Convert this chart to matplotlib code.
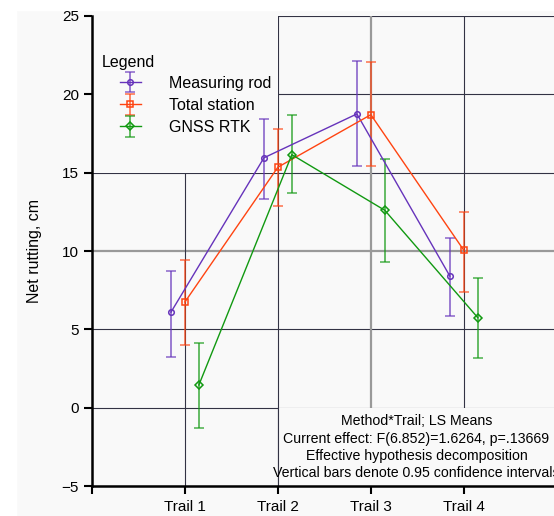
import numpy as np
import matplotlib.pyplot as plt
from matplotlib.patches import Rectangle
from matplotlib.container import ErrorbarContainer
from matplotlib.legend_handler import HandlerErrorbar

# Data
trails = ["Trail 1", "Trail 2", "Trail 3", "Trail 4"]
methods = ["Measuring rod", "Total station", "GNSS RTK"]

rod_mean = [6.1, 15.95, 18.75, 8.4]
rod_low = [3.25, 13.35, 15.45, 5.85]
rod_high = [8.75, 18.4, 22.1, 10.85]

ts_mean = [6.75, 15.35, 18.7, 10.05]
ts_low = [4.0, 12.85, 15.4, 7.4]
ts_high = [9.4, 17.8, 22.05, 12.5]

gnss_mean = [1.45, 16.15, 12.6, 5.75]
gnss_low = [-1.3, 13.7, 9.3, 3.2]
gnss_high = [4.15, 18.7, 15.9, 8.25]

note = ("Method*Trail; LS Means\n"
        "Current effect: F(6.852)=1.6264, p=.13669\n"
        "Effective hypothesis decomposition\n"
        "Vertical bars denote 0.95 confidence intervals")

bg = "#f9f9f9"
plt.rcParams['font.family'] = ['Liberation Sans', 'DejaVu Sans']

fig = plt.figure(figsize=(5.54, 5.16), dpi=100, facecolor=bg)
# white margins at top and left like the source picture
fig.patches.append(Rectangle((0, 0.981), 1, 0.02, transform=fig.transFigure,
                             color="white", zorder=-10))
fig.patches.append(Rectangle((0, 0), 0.029, 1, transform=fig.transFigure,
                             color="white", zorder=-10))

ax = fig.add_axes([0.166, 0.058, 0.839, 0.911])
ax.set_facecolor(bg)

x = np.arange(1, len(trails) + 1)

# grid
for yv in [-5, 0, 5, 15, 20, 25]:
    ax.axhline(yv, color="#333344", lw=0.8, zorder=0.5)
ax.axhline(10, color="#999999", lw=1.6, zorder=0.5)
for xv in [1, 2, 4, 5]:
    ax.axvline(xv, color="#333344", lw=0.8, zorder=0.5)
ax.axvline(3, color="#999999", lw=1.6, zorder=0.5)

# legend area and note area mask the grid
ax.add_patch(Rectangle((0, 15), 2, 10.2, facecolor=bg, edgecolor="none", zorder=1))
ax.add_patch(Rectangle((2, -5), 3.5, 5, facecolor=bg, edgecolor="none", zorder=1))
ax.plot([2, 2], [-5, 0], color="#333344", lw=0.8, zorder=1.1)

series = [
    (rod_mean, rod_low, rod_high, "#6633bb", "o", -0.15),
    (ts_mean, ts_low, ts_high, "#ff4411", "s", 0.0),
    (gnss_mean, gnss_low, gnss_high, "#119911", "D", 0.15),
]

for (m, lo, hi, col, mk, off), name in zip(series, methods):
    m = np.array(m)
    err = [m - np.array(lo), np.array(hi) - m]
    cont = ax.errorbar(x + off, m, yerr=err, color=col, marker=mk,
                       ms=4 if mk != "D" else 3.6,
                       mfc="none", mew=1.1, lw=1.0, capsize=3.5, capthick=1.2,
                       elinewidth=1.2, label=name, zorder=3)
    for c in cont[1]:
        c.set_alpha(0.75)
    for b in cont[2]:
        b.set_alpha(0.75)

ax.set_xlim(0, 5)
ax.set_ylim(-5, 25)
ax.set_yticks([-5, 0, 5, 10, 15, 20, 25])
ax.set_yticklabels(["\u22125", "0", "5", "10", "15", "20", "25"])
ax.set_xticks([0, 1, 2, 3, 4, 5])
ax.set_xticklabels([""] + trails + [""])
ax.tick_params(axis="both", direction="out", length=6, width=1.5, labelsize=11,
               color="black")
ax.tick_params(axis="x", pad=4)
for s in ["top", "right"]:
    ax.spines[s].set_visible(False)
for s in ["left", "bottom"]:
    ax.spines[s].set_linewidth(1.8)
ax.set_ylabel("Net rutting, cm", fontsize=11.5, labelpad=14)

ax.text(0.0215, 0.902, "Legend", transform=ax.transAxes, fontsize=11.5,
        ha="left", va="center")
leg = ax.legend(loc="upper left", bbox_to_anchor=(0.06, 0.873), frameon=False,
                fontsize=11.5, handlelength=1.3, handletextpad=1.8,
                labelspacing=0.45, borderaxespad=0, borderpad=0,
                handler_map={ErrorbarContainer: HandlerErrorbar(xerr_size=0.5, yerr_size=0.65)})
for ln in leg.get_lines():
    if ln.get_marker() == "_":
        ln.set_markersize(14)

ax.text(3.49, -2.52, note, ha="center", va="center", fontsize=10.2,
        linespacing=1.3, zorder=4)

fig.savefig("out.png", dpi=100, facecolor=bg)
